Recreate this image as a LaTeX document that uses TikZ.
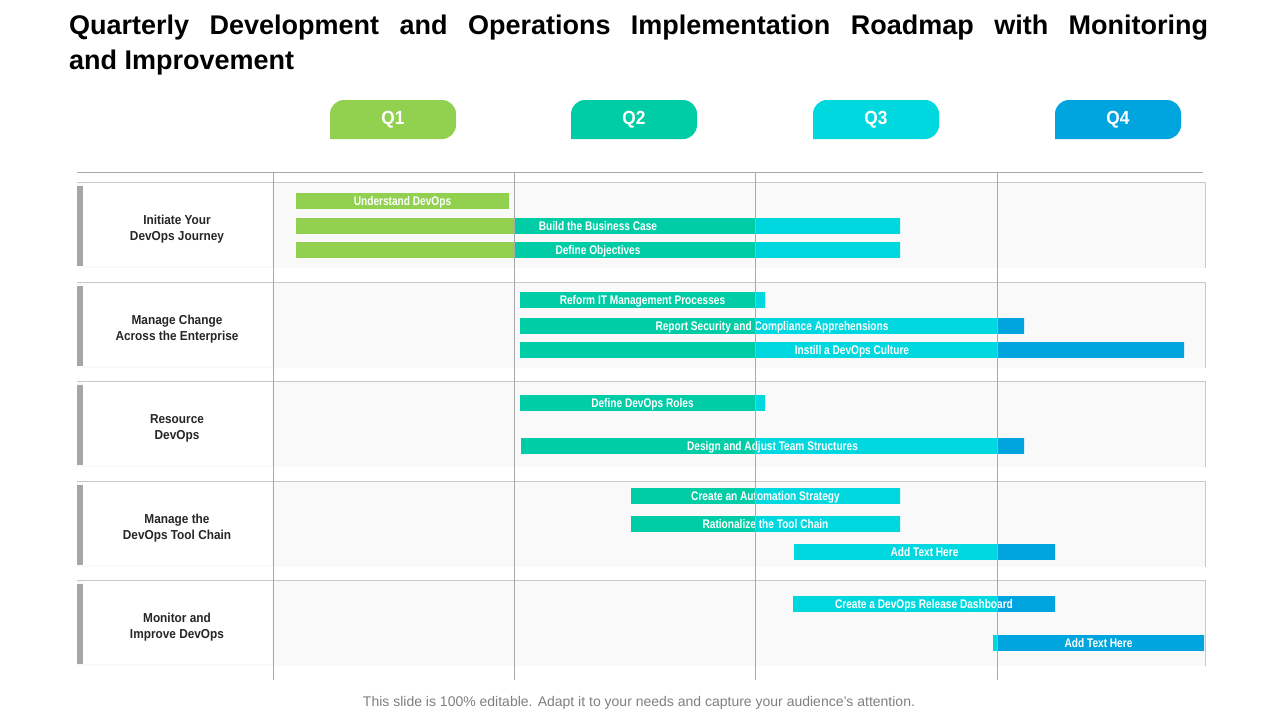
\documentclass[tikz,border=0pt]{standalone}
\usepackage{fontspec}
\setmainfont{Liberation Sans}
\newfontfamily\narrowfont[FakeStretch=0.81]{Liberation Sans}
\newfontfamily\labelfont[FakeStretch=0.91]{Liberation Sans}
\definecolor{qone}{HTML}{92D050}
\definecolor{qtwo}{HTML}{00CDA5}
\definecolor{qthree}{HTML}{00D8DF}
\definecolor{qfour}{HTML}{00A5DF}
\definecolor{gridgray}{HTML}{A9A9A9}
\definecolor{panelgray}{HTML}{F9F9F9}
\definecolor{edgegray}{HTML}{C8C8C8}
\definecolor{bargray}{HTML}{A6A6A6}
\definecolor{labelgray}{HTML}{262626}
\definecolor{footgray}{HTML}{808080}
\tikzset{
  rowlabel/.style={align=center,inner sep=0pt,text=labelgray,
    font=\labelfont\bfseries\fontsize{13}{16}\selectfont},
  bartext/.style={anchor=base,inner sep=0pt,text=white,
    font=\narrowfont\bfseries\fontsize{12.5}{13}\selectfont},
  tabtext/.style={inner sep=0pt,text=white,
    font=\labelfont\bfseries\fontsize{19}{20}\selectfont},
  grid/.style={draw=gridgray,line width=1pt}
}
% bar split in quarter colours: name, x1, x2, top, text
\newcommand{\taskbar}[5]{%
  \begin{scope}
    \clip (#2,#4) rectangle (#3,#4+16);
    \fill[qone] (0,#4) rectangle (514,#4+16);
    \fill[qtwo] (514,#4) rectangle (755,#4+16);
    \fill[qthree] (755,#4) rectangle (997,#4+16);
    \fill[qfour] (997,#4) rectangle (1280,#4+16);
  \end{scope}
  \node (#1) at ({(#2+#3)/2},#4+12.3)[bartext]{#5};
}
\begin{document}
\begin{tikzpicture}[x=1pt,y=-1pt]
\useasboundingbox[fill=white] (0,0) rectangle (1280,720);

\node (title) at (69,15)[anchor=north west,inner sep=0pt,text width=1139pt,align=justify,
  font=\bfseries\fontsize{27}{35}\selectfont]{Quarterly Development and Operations Implementation Roadmap with Monitoring\linebreak and Improvement};

% quarter tabs
\foreach \x/\c/\n in {393/qone/Q1,634/qtwo/Q2,876/qthree/Q3,1118/qfour/Q4}{
  \fill[\c] (\x-63,139) [rounded corners=14pt] |- (\x,100) -| (\x+63,139) [sharp corners] -- cycle;
  \node (\n) at (\x,120)[tabtext]{\n};
}

% rows
\foreach \t/\txt [count=\i] in {182/{Initiate Your\\DevOps Journey},282/{Manage Change\\Across the Enterprise},
  381/{Resource\\DevOps},481/{Manage the\\DevOps Tool Chain},580/{Monitor and\\Improve DevOps}}{
  \fill[panelgray] (77,\t) rectangle (1205,\t+86);
  \fill[white] (83,\t+1) rectangle (272,\t+84);
  \fill[bargray] (77,\t+4) rectangle (83,\t+84);
  \draw[edgegray,line width=1pt] (77,\t) -- (1205,\t) -- (1205,\t+86);
  \node (row\i) at (177,\t+47)[rowlabel]{\txt};
}

\taskbar{t11}{296}{509}{193}{Understand DevOps}
\taskbar{t12}{296}{900}{218}{Build the Business Case}
\taskbar{t13}{296}{900}{242}{Define Objectives}
\taskbar{t21}{520}{765}{292}{Reform IT Management Processes}
\taskbar{t22}{520}{1024}{318}{Report Security and Compliance Apprehensions}
\taskbar{t23}{520}{1184}{342}{Instill a DevOps Culture}
\taskbar{t31}{520}{765}{395}{Define DevOps Roles}
\taskbar{t32}{521}{1024}{438}{Design and Adjust Team Structures}
\taskbar{t41}{631}{900}{488}{Create an Automation Strategy}
\taskbar{t42}{631}{900}{516}{Rationalize the Tool Chain}
\taskbar{t43}{794}{1055}{544}{Add Text Here}
\taskbar{t51}{793}{1055}{596}{Create a DevOps Release Dashboard}
\taskbar{t52}{993}{1204}{635}{Add Text Here}

% grid
\draw[grid] (77,172) -- (1203,172);
\foreach \x in {273,514,755,997}{
  \draw[grid] (\x,172) -- (\x,680);
}

\node (foot) at (639,703)[inner sep=0pt,text=footgray,font=\fontsize{14}{16}\selectfont]{This slide is 100\% editable. Adapt it to your needs and capture your audience's attention.};
\end{tikzpicture}
\end{document}
